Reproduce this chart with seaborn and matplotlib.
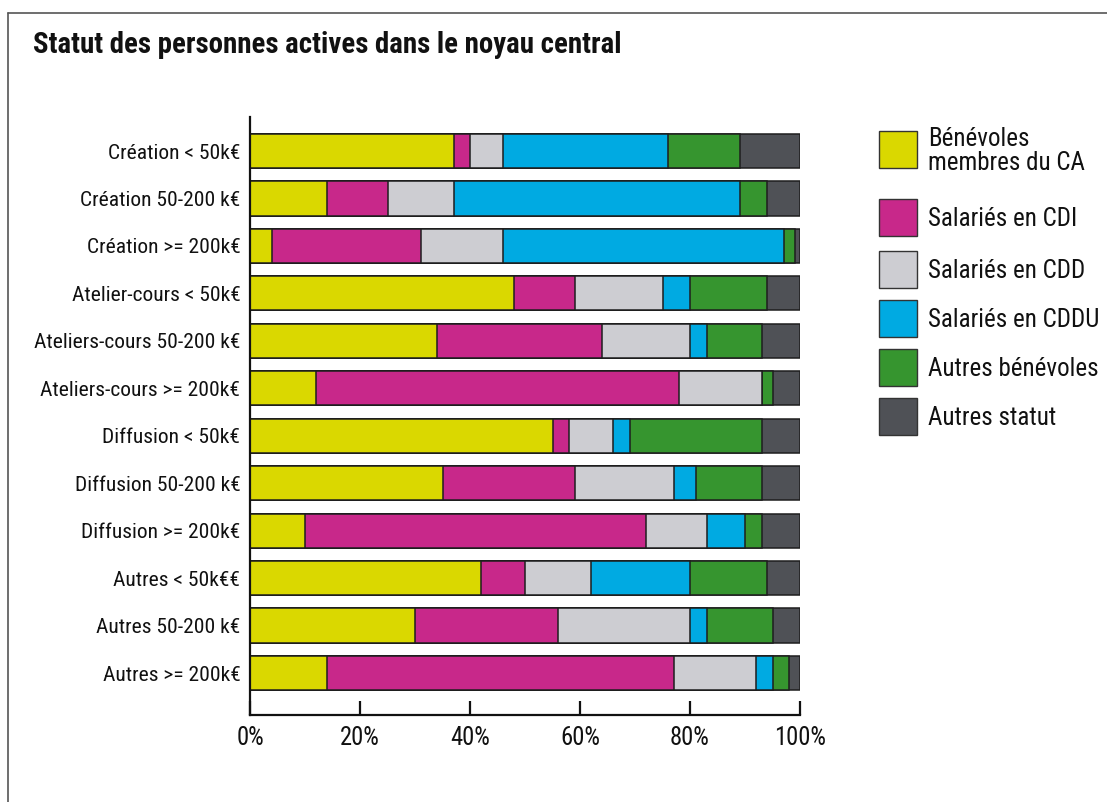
import numpy as np
import pandas as pd
import seaborn as sns
import matplotlib.pyplot as plt
import matplotlib.font_manager as fm
from matplotlib.patches import Rectangle
from matplotlib.lines import Line2D

# ===== DATA =====
categories = [
    "Création < 50k€", "Création 50-200 k€", "Création >= 200k€",
    "Atelier-cours < 50k€", "Ateliers-cours 50-200 k€", "Ateliers-cours >= 200k€",
    "Diffusion < 50k€", "Diffusion 50-200 k€", "Diffusion >= 200k€",
    "Autres < 50k€€", "Autres 50-200 k€", "Autres >= 200k€",
]
benevoles_ca = [37, 14, 4, 48, 34, 12, 55, 35, 10, 42, 30, 14]
salaries_cdi = [3, 11, 27, 11, 30, 66, 3, 24, 62, 8, 26, 63]
salaries_cdd = [6, 12, 15, 16, 16, 15, 8, 18, 11, 12, 24, 15]
salaries_cddu = [30, 52, 51, 5, 3, 0, 3, 4, 7, 18, 3, 3]
autres_benevoles = [13, 5, 2, 14, 10, 2, 24, 12, 3, 14, 12, 3]
autres_statut = [11, 6, 1, 6, 7, 5, 7, 7, 7, 6, 5, 2]

series_names = ["Bénévoles\nmembres du CA", "Salariés en CDI", "Salariés en CDD",
                "Salariés en CDDU", "Autres bénévoles", "Autres statut"]
colors = ["#DAD800", "#C8288A", "#CDCDD2", "#00AAE2", "#36952F", "#4F5156"]

df = pd.DataFrame({
    "cat": categories,
    series_names[0]: benevoles_ca,
    series_names[1]: salaries_cdi,
    series_names[2]: salaries_cdd,
    series_names[3]: salaries_cddu,
    series_names[4]: autres_benevoles,
    series_names[5]: autres_statut,
})
cum = df[series_names].cumsum(axis=1)

# ===== FONTS =====
sns.set_theme(style="white")
fonts = fm.fontManager.ttflist
names = {f.name for f in fonts}
family, stretch = "Liberation Sans", "normal"
for cand in ["Liberation Sans Narrow", "Roboto Condensed", "Noto Sans Condensed",
             "Open Sans Condensed", "DejaVu Sans Condensed"]:
    if cand in names:
        family = cand
        break
else:
    for base in ["Noto Sans", "Roboto", "Open Sans", "DejaVu Sans"]:
        cond = [f for f in fonts if f.name == base and f.stretch in ("condensed", "semi-condensed")]
        if cond:
            family, stretch = base, cond[0].stretch
            break
plt.rcParams["font.family"] = [family, "Liberation Sans", "DejaVu Sans"]
plt.rcParams["font.stretch"] = stretch

W, H = 1107, 802
fig = plt.figure(figsize=(W / 100, H / 100), dpi=100)
renderer = fig.canvas.get_renderer()


def fit_size(s, target_px, weight="normal", base=20.0):
    # font size giving the wanted pixel width for this string
    t = fig.text(0, 0, s, fontsize=base, fontweight=weight)
    w = t.get_window_extent(renderer).width
    t.remove()
    return base * target_px / w


sizes = {
    "ytick": min(fit_size("Ateliers-cours 50-200 k€", 206), 18),
    "xtick": min(fit_size("100%", 52), 19),
    "title": min(fit_size("Statut des personnes actives dans le noyau central", 587, "bold"), 22),
    "legend": min(fit_size("Salariés en CDDU", 174), 18),
}

ax = fig.add_axes([250 / W, 1 - 715 / H, 550 / W, (715 - 117) / H])

# stacked bars: draw cumulative totals from the last series back to the first
for name, col in reversed(list(zip(series_names, colors))):
    sns.barplot(x=cum[name], y=df["cat"], color=col, orient="h", width=0.72,
                saturation=1, edgecolor="#1e1e1e", linewidth=1.1, ax=ax)

ax.set_xlim(0, 100)
ax.set_ylim(len(categories) - 1 + 0.885, -0.717)
ax.set_xticks([0, 20, 40, 60, 80, 100])
ax.set_xticklabels(["0%", "20%", "40%", "60%", "80%", "100%"])
ax.set_xlabel("")
ax.set_ylabel("")
for s in ["top", "right"]:
    ax.spines[s].set_visible(False)
for s in ["left", "bottom"]:
    ax.spines[s].set_color("#111111")
    ax.spines[s].set_linewidth(1.6)
ax.tick_params(axis="x", direction="in", length=10, width=1.6, color="#111111",
               pad=8, labelsize=sizes["xtick"], labelcolor="#111111", bottom=True)
ax.tick_params(axis="y", length=0, pad=7, labelsize=sizes["ytick"], labelcolor="#111111")

# legend (square swatches + labels, placed in figure pixels)
leg_y = [149, 217, 269, 318, 367, 416]
for yc, name, col in zip(leg_y, series_names, colors):
    fig.add_artist(Rectangle((879 / W, 1 - (yc + 18.5) / H), 38 / W, 37 / H,
                             transform=fig.transFigure, facecolor=col,
                             edgecolor="#333333", linewidth=1.0))
    fig.text(928 / W, 1 - (yc + 2) / H, name, fontsize=sizes["legend"], va="center",
             ha="left", color="#111111", linespacing=1.0)

# title
fig.text(33 / W, 1 - 45 / H, "Statut des personnes actives dans le noyau central",
         fontsize=sizes["title"], fontweight="bold", va="center", ha="left", color="#111111")

# outer frame (partly cropped on the right and bottom)
fig.add_artist(Line2D([8 / W, 8 / W], [-0.01, 1 - 13 / H], transform=fig.transFigure,
                      color="#555555", linewidth=1.2))
fig.add_artist(Line2D([8 / W, 1.01], [1 - 13 / H, 1 - 13 / H], transform=fig.transFigure,
                      color="#555555", linewidth=1.2))

fig.savefig("out.png", dpi=100)
